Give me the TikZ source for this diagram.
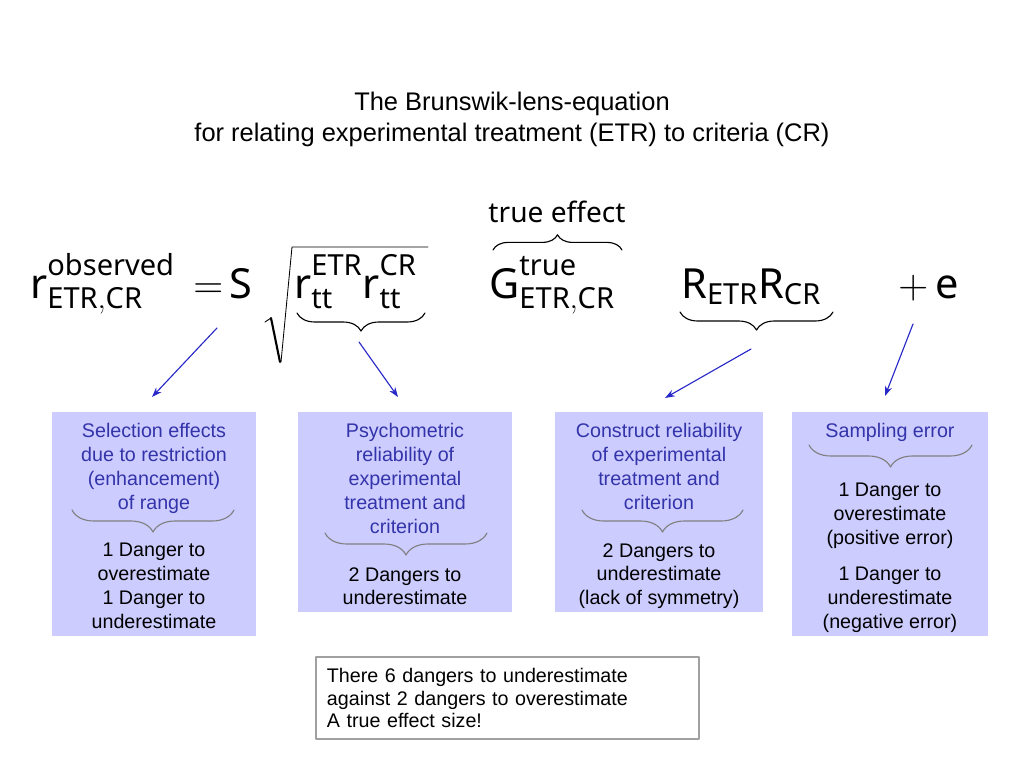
\RequirePackage{fix-cm}
\documentclass[tikz,border=0pt]{standalone}
\usepackage{fontspec}
\setmainfont{Liberation Sans}
\setsansfont{Noto Sans}
\usetikzlibrary{arrows.meta,decorations.pathreplacing}
\definecolor{panelfill}{RGB}{204,204,255}
\definecolor{paneltitle}{RGB}{51,51,170}
\definecolor{pointerblue}{RGB}{40,40,200}
\definecolor{bracegrey}{RGB}{128,128,128}
\definecolor{noteframe}{RGB}{160,160,160}
\newcommand{\upscript}[1]{\raisebox{5.5pt}{$\scriptstyle\mathsf{#1}$}}
\begin{document}
\begin{tikzpicture}[x=0.025cm,y=-0.025cm,line join=round,line cap=round,>={Stealth[length=7pt,width=5pt]},
	eqn/.style={inner sep=0pt,anchor=base west,font=\fontsize{29.5}{34}\selectfont},
	eqbrace/.style={decorate,decoration={brace,amplitude=#1},line width=0.8pt},
	eqbrace below/.style={decorate,decoration={brace,mirror,amplitude=#1},line width=0.8pt},
	boxbrace/.style={decorate,decoration={brace,mirror,amplitude=0.55cm},bracegrey,line width=0.8pt},
	panel/.style={fill=panelfill,inner sep=0pt},
	paneltext/.style={inner sep=0pt,anchor=north,align=center,font=\fontsize{14}{17}\selectfont},
	pointer/.style={->,pointerblue,line width=0.8pt},
	note/.style={draw=noteframe,line width=0.8pt,fill=white,align=left,text width=9.025cm,minimum height=2.05cm,inner xsep=0.275cm,font=\fontsize{14}{16.3}\selectfont}]
	\useasboundingbox (0,0) rectangle (1024,768);
	\node[inner sep=0pt,anchor=north,align=center,font=\fontsize{18.1}{22}\selectfont] (heading) at (512,92)
	{The Brunswik-lens-equation\\for relating experimental treatment (ETR) to criteria (CR)};
	% the equation
	\node[eqn] (obs) at (30,298) {$\mathsf{r}^{\upscript{observed}}_{\mathsf{ETR,CR}}$};
	\node[eqn] (equals) at (193,298) {$=$};
	\node[eqn] (sel) at (229,298) {$\mathsf{S}$};
	\node[eqn] (rtt) at (294,298) {$\mathsf{r}^{\upscript{ETR}}_{\mathsf{tt}}\mathsf{r}^{\upscript{CR}}_{\mathsf{tt}}$};
	\node[eqn] (gtrue) at (489,298) {$\mathsf{G}^{\upscript{true}}_{\mathsf{ETR,CR}}$};
	\node[eqn] (rel) at (681,298) {$\mathsf{R}_{\mathsf{ETR}}\mathsf{R}_{\mathsf{CR}}$};
	\node[eqn] (err) at (898,298) {$+\,\mathsf{e}$};
	\node[inner sep=0pt,anchor=base,font=\sffamily\fontsize{20}{24}\selectfont] (trueeff) at (557,222) {true effect};
	\draw[line width=0.6pt] (265,322) -- (271,318);
	\draw[line width=1.5pt] (271,318) -- (280,362);
	\draw[line width=0.6pt] (281,362) -- (292,247) -- (428,247);
	\path
	(297,313) coordinate (rttL)
	(425,313) coordinate (rttR)
	(493,250) coordinate (gL)
	(622,250) coordinate (gR)
	(680,312) coordinate (relL)
	(833,312) coordinate (relR)
	;
	\draw[eqbrace below=0.45cm] (rttL) -- (rttR);
	\draw[eqbrace=0.38cm] (gL) -- (gR);
	\draw[eqbrace below=0.45cm] (relL) -- (relR);
	% panels
	\foreach \n/\x/\y/\w/\h in {selbox/154/524/5.1/5.6,psybox/405/512/5.35/5.0,conbox/659/512/5.2/5.0,sambox/890/524/4.9/5.6}
	\node[panel,minimum width=\w cm,minimum height=\h cm] (\n) at (\x,\y) {};
	\foreach \a/\b/\y in {72/234/510,325/487/533,582/743/510,809/972/445}
	\draw[boxbrace] (\a,\y) -- (\b,\y);
	\node[paneltext,text=paneltitle] (seltitle) at (154,423) {Selection effects\\due to restriction\\(enhancement)\\of range};
	\node[paneltext] (seldanger) at (154,543) {1 Danger to\\overestimate\\1 Danger to\\underestimate};
	\node[paneltext,text=paneltitle] (psytitle) at (405,423) {Psychometric\\reliability of\\experimental\\treatment and\\criterion};
	\node[paneltext] (psydanger) at (405,567) {2 Dangers to\\underestimate};
	\node[paneltext,text=paneltitle] (contitle) at (659,423) {Construct reliability\\of experimental\\treatment and\\criterion};
	\node[paneltext] (condanger) at (659,543) {2 Dangers to\\underestimate\\(lack of symmetry)};
	\node[paneltext,text=paneltitle] (samtitle) at (890,423) {Sampling error};
	\node[paneltext] (samover) at (890,483) {1 Danger to\\overestimate\\(positive error)};
	\node[paneltext] (samunder) at (890,567) {1 Danger to\\underestimate\\(negative error)};
	% arrows
	\path
	(217,328) coordinate (tailS)
	(152,397) coordinate (headS)
	(359,342) coordinate (tailRtt)
	(398,397) coordinate (headRtt)
	(751,349) coordinate (tailR)
	(665,398) coordinate (headR)
	(913,324) coordinate (tailE)
	(885,396) coordinate (headE)
	;
	\foreach \t/\h in {tailS/headS,tailRtt/headRtt,tailR/headR,tailE/headE}\draw[pointer] (\t) -- (\h);
	\node[note] (summary) at (507.5,698) {There 6 dangers to underestimate\\against 2 dangers to overestimate\\A true effect size!};
\end{tikzpicture}
\end{document}
